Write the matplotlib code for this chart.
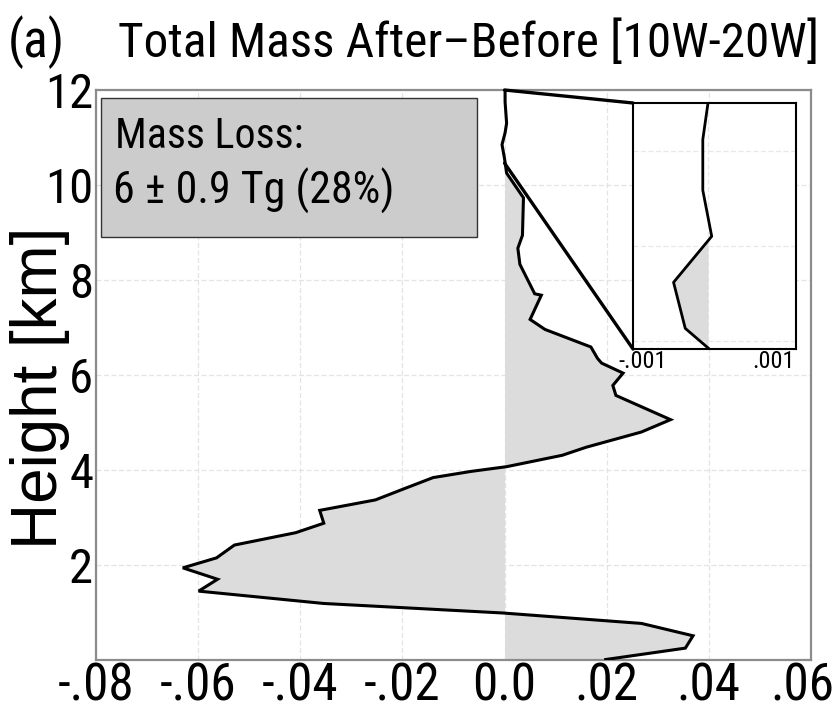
import matplotlib
matplotlib.use("Agg")
import matplotlib.pyplot as plt
import numpy as np
from matplotlib import font_manager as fm
from matplotlib.patches import Rectangle, ConnectionPatch
from matplotlib.transforms import ScaledTranslation

# Height profile of total mass change (after - before), 10W-20W
height_km = [12.0, 11.75, 11.3, 11.1, 10.85, 10.55, 10.25, 9.73, 8.94, 8.67,
             8.33, 7.71, 7.68, 7.17, 6.96, 6.59, 6.35, 6.25, 6.04, 5.78,
             5.57, 5.06, 4.80, 4.48, 4.31, 4.07, 3.97, 3.84, 3.60, 3.37,
             3.15, 2.88, 2.68, 2.42, 2.15, 1.94, 1.70, 1.45, 1.19, 0.99,
             0.77, 0.51, 0.25, 0.01]
mass_diff = [0.0001, 0.0001, 0.0004, 0.0001, -0.0005, 0.0, 0.0004, 0.0037, 0.0035, 0.0026,
             0.0030, 0.0059, 0.0072, 0.0050, 0.0079, 0.0169, 0.0182, 0.0190, 0.0232, 0.0212,
             0.0218, 0.0325, 0.0268, 0.0160, 0.0113, 0.0004, -0.0066, -0.0140, -0.0198, -0.0253,
             -0.0362, -0.0354, -0.0409, -0.0529, -0.0564, -0.0630, -0.0562, -0.0599, -0.0354, -0.0004,
             0.0268, 0.0369, 0.0354, 0.0198]

# Upper-troposphere detail shown in the inset
inset_height_km = [12.0, 11.77, 11.45, 11.16, 10.87, 10.58, 10.45]
inset_mass_diff = [0.0, -0.00008, -0.00008, 0.000057, -0.00053, -0.00035, 0.00002]

x_ticks = [-0.08, -0.06, -0.04, -0.02, 0.0, 0.02, 0.04, 0.06]
x_tick_labels = ["-.08", "-.06", "-.04", "-.02", "0.0", ".02", ".04", ".06"]
y_ticks = [2, 4, 6, 8, 10, 12]
inset_x_ticks = [-0.001, 0.001]
inset_x_tick_labels = ["-.001", ".001"]

title_tag = "(a)"
title_text = "Total Mass After\u2013Before [10W-20W]"
box_lines = ["Mass Loss:", "6 \u00b1 0.9 Tg (28%)"]


def narrow_font_file():
    """Return the file of a condensed sans-serif face if one is installed."""
    entries = fm.fontManager.ttflist
    preferred = ["Liberation Sans Narrow", "Arial Narrow", "Roboto Condensed",
                 "Open Sans Condensed", "Noto Sans Condensed", "DejaVu Sans Condensed"]
    regular = (400, "normal", "regular", "book")
    for name in preferred:
        for f in entries:
            if f.name == name and f.style == "normal" and f.weight in regular:
                return f.fname
    for f in entries:
        if (isinstance(f.stretch, str) and "condensed" in f.stretch
                and f.style == "normal" and f.weight in regular
                and any(k in f.name for k in ("Liberation", "Roboto", "Open Sans",
                                              "Noto Sans", "DejaVu Sans", "Lato", "Inter"))):
            return f.fname
    return None


_nf = narrow_font_file()
NARROW = fm.FontProperties(fname=_nf) if _nf else fm.FontProperties(family=["Liberation Sans", "DejaVu Sans"])
REGULAR = fm.FontProperties(family=["Liberation Sans", "DejaVu Sans"])

fig = plt.figure(figsize=(8.34, 7.11), dpi=100)
ax = fig.add_axes([96 / 834, 51 / 711, 715 / 834, 570 / 711])

h = np.array(height_km)
m = np.array(mass_diff)
ax.fill_betweenx(h, 0, m, where=h <= 10.3, color="#dcdcdc", linewidth=0, zorder=1)
ax.plot(m, h, color="black", lw=2.2, zorder=3, solid_joinstyle="miter")

ax.set_xlim(-0.08, 0.06)
ax.set_ylim(0, 12)
ax.set_xticks(x_ticks)
ax.set_xticklabels(x_tick_labels, fontproperties=NARROW, fontsize=34)
ax.set_yticks(y_ticks)
ax.set_yticklabels([str(t) for t in y_ticks], fontproperties=NARROW, fontsize=34)
ax.tick_params(axis="both", length=0)
ax.tick_params(axis="x", pad=1)
ax.tick_params(axis="y", pad=2)
ax.grid(True, color="#e4e4e4", lw=0.9, ls=(0, (4, 2)))
ax.set_axisbelow(True)
for s in ax.spines.values():
    s.set_color("#8c8c8c")
    s.set_linewidth(1.6)

ylab = ax.set_ylabel("Height [km]", fontproperties=REGULAR, fontsize=40)
ylab.set_verticalalignment("center")
ax.yaxis.set_label_coords(-56 / 715, (660 - 388) / 570)

# Summary box
box = Rectangle((101 / 834, 1 - 237 / 711), 376 / 834, 139 / 711,
                transform=fig.transFigure, facecolor="#cccccc",
                edgecolor="#333333", lw=1.0, zorder=5)
fig.patches.append(box)
t_box1 = fig.text(115 / 834, 1 - 148 / 711, box_lines[0], fontproperties=NARROW,
                  fontsize=34, va="baseline", ha="left", zorder=6)
t_box2 = fig.text(113 / 834, 1 - 204 / 711, box_lines[1], fontproperties=NARROW,
                  fontsize=34, va="baseline", ha="left", zorder=6)

# Title
t_tag = fig.text(8 / 834, 1 - 57 / 711, title_tag, fontproperties=NARROW, fontsize=40,
                 va="baseline", ha="left")
t_title = fig.text(118 / 834, 1 - 57 / 711, title_text, fontproperties=NARROW, fontsize=40,
                   va="baseline", ha="left")

# Inset
axi = fig.add_axes([633 / 834, 1 - 349 / 711, 163 / 834, 246 / 711])
ih = np.array(inset_height_km)
im = np.array(inset_mass_diff)
axi.fill_betweenx(ih, 0, im, where=ih <= 11.16, color="#dcdcdc", linewidth=0, zorder=1)
axi.plot(im, ih, color="black", lw=2.0, zorder=3)
axi.set_xlim(-0.001154, 0.001354)
axi.set_ylim(10.45, 12.0)
axi.set_yticks([10.5, 11.1, 11.7])
axi.set_yticklabels([])
axi.set_xticks(inset_x_ticks)
axi.set_xticklabels(inset_x_tick_labels, fontproperties=NARROW, fontsize=19)
axi.tick_params(axis="both", length=0, pad=1)
axi.grid(True, axis="y", color="#e8e8e8", lw=0.9, ls=(0, (4, 2)))
axi.axvline(0, color="#e8e8e8", lw=0.9, ls=(0, (4, 2)), zorder=0)
for s in axi.spines.values():
    s.set_color("black")
    s.set_linewidth(1.5)

# Connectors from the zoomed band to the inset
for y_main, y_frac in [(12.0, 1.0), (10.46, 0.0)]:
    con = ConnectionPatch(xyA=(0.0, y_main), coordsA=ax.transData,
                          xyB=(0.0, y_frac), coordsB=axi.transAxes,
                          color="black", lw=2.4, zorder=10)
    fig.add_artist(con)

# Size every text so that its printed extent matches the layout
fig.canvas.draw()
renderer = fig.canvas.get_renderer()


def fit(artist, target_px, along="width"):
    bb = artist.get_window_extent(renderer)
    size = bb.width if along == "width" else bb.height
    artist.set_fontsize(artist.get_fontsize() * target_px / size)


fit(t_title, 702)
fit(t_tag, 57)
fit(t_box1, 188)
fit(t_box2, 281)
fit(ylab, 322, along="height")

xl = ax.get_xticklabels()[5]
x_size = xl.get_fontsize() * 64 / xl.get_window_extent(renderer).width
yl = ax.get_yticklabels()[4]
y_size = yl.get_fontsize() * 48 / yl.get_window_extent(renderer).width
il = axi.get_xticklabels()[1]
i_size = il.get_fontsize() * 42 / il.get_window_extent(renderer).width
ax.tick_params(axis="x", labelsize=x_size)
ax.tick_params(axis="y", labelsize=y_size)
axi.tick_params(axis="x", labelsize=i_size)

# Keep the right-most x label inside the figure edge
last = ax.get_xticklabels()[-1]
last.set_transform(last.get_transform() + ScaledTranslation(-9 / 100, 0, fig.dpi_scale_trans))

fig.savefig("out.png", dpi=100)
